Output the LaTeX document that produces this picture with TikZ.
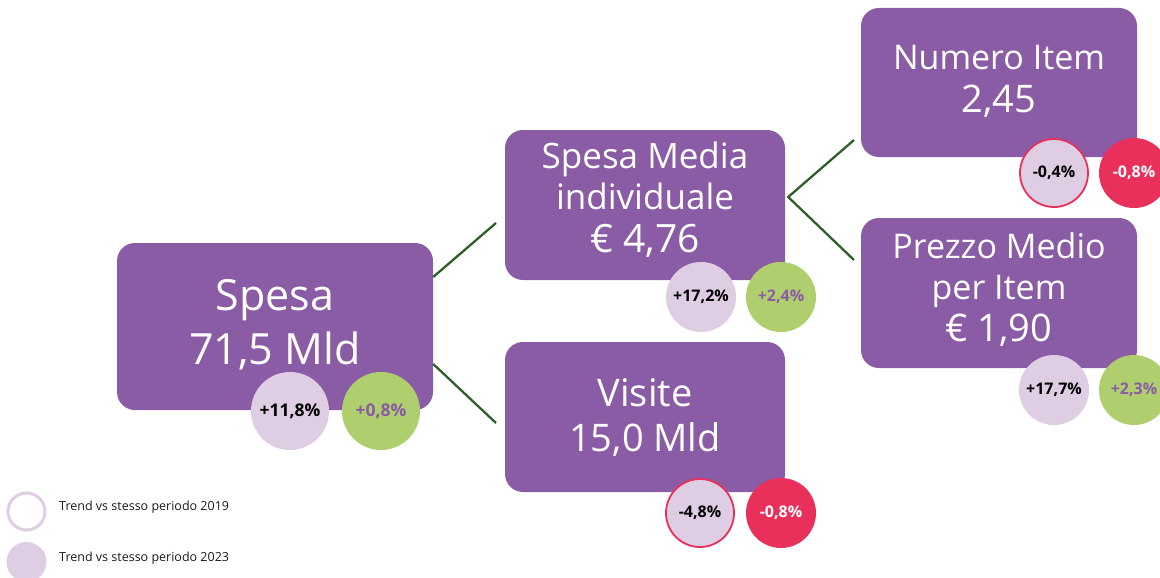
\documentclass[tikz,border=0pt]{standalone}
\usepackage{fontspec}
\setmainfont{Open Sans}
\usetikzlibrary{calc}
\definecolor{boxpurple}{HTML}{8A5CA5}
\definecolor{lightlilac}{HTML}{DFCDE4}
\definecolor{leafgreen}{HTML}{AFCF6F}
\definecolor{alertred}{HTML}{E8305A}
\definecolor{linegreen}{HTML}{2F5E2B}
\definecolor{legendtext}{HTML}{1A1A1A}
\tikzset{
  kpibox/.style={draw=none, fill=boxpurple, rounded corners=18pt, inner sep=0pt},
  boxtext/.style={text=white, align=center, inner sep=0pt},
  pct/.style={circle, inner sep=0pt, minimum size=#1, font=\bfseries\fontsize{16}{16}\selectfont},
  vs19/.style={pct=#1, fill=lightlilac, text=black},
  vs19neg/.style={pct=#1, fill=lightlilac, draw=alertred, line width=1.8pt, text=black},
  vs23pos/.style={pct=#1, fill=leafgreen, text=boxpurple},
  vs23neg/.style={pct=#1, fill=alertred, text=white},
  conn/.style={draw=linegreen, line width=2.3pt},
  legendtxt/.style={anchor=west, inner sep=0pt, text=legendtext, font=\fontsize{12.5}{14}\selectfont}
}
\begin{document}
\begin{tikzpicture}[x=1pt,y=-1pt]
\useasboundingbox (0,0) rectangle (1160,578);

% boxes
\node[kpibox, minimum width=316pt, minimum height=167pt,
  label={[boxtext, yshift=2pt, font=\fontsize{43}{54}\selectfont]center:{Spesa\\71,5 Mld}}] (spesa) at (275,326.5) {};
\node[kpibox, minimum width=280pt, minimum height=150pt,
  label={[boxtext, yshift=5pt, font=\fontsize{35}{41}\selectfont]center:{Spesa Media\\individuale\\[2pt]\fontsize{39}{41}\selectfont € 4,76}}] (media) at (645,205) {};
\node[kpibox, minimum width=280pt, minimum height=150pt,
  label={[boxtext, yshift=-1pt, font=\fontsize{38}{45}\selectfont]center:{Visite\\15,0 Mld}}] (visite) at (645,417) {};
\node[kpibox, minimum width=276pt, minimum height=149pt,
  label={[boxtext, yshift=1pt, font=\fontsize{34}{43}\selectfont]center:{Numero Item\\\fontsize{38}{43}\selectfont 2,45}}] (numero) at (999,82.5) {};
\node[kpibox, minimum width=276pt, minimum height=150pt,
  label={[boxtext, yshift=3pt, font=\fontsize{34}{41}\selectfont]center:{Prezzo Medio\\per Item\\[1pt]\fontsize{38}{41}\selectfont € 1,90}}] (prezzo) at (999,293) {};

% connectors
\coordinate (mediaIn) at (496,223);
\coordinate (visiteIn) at (496,423);
\coordinate (numeroIn) at (854,140);
\coordinate (prezzoIn) at (854,260);
\coordinate (mediaOut) at ($(media.east)+(3,-8)$);
\draw[conn] ($(spesa.east)+(0,-49.5)$) -- (mediaIn);
\draw[conn] ($(spesa.east)+(0,37.5)$) -- (visiteIn);
\draw[conn, line join=miter] (numeroIn) -- (mediaOut) -- (prezzoIn);

% trend circles
\node[vs19=78pt, font=\bfseries\fontsize{17.5}{18}\selectfont] (spesaA) at (290,411) {+11,8\%};
\node[vs23pos=78pt, font=\bfseries\fontsize{17.5}{18}\selectfont] (spesaB) at (381,411) {+0,8\%};
\node[vs19=70pt] (mediaA) at (701,297) {+17,2\%};
\node[vs23pos=70pt] (mediaB) at (781,297) {+2,4\%};
\node[vs19neg=68pt] (visiteA) at (700,513) {-4,8\%};
\node[vs23neg=70pt] (visiteB) at (781,513) {-0,8\%};
\node[vs19neg=68pt] (numeroA) at (1054,173) {-0,4\%};
\node[vs23neg=70pt] (numeroB) at (1134,173) {-0,8\%};
\node[vs19=70pt] (prezzoA) at (1054,390) {+17,7\%};
\node[vs23pos=70pt] (prezzoB) at (1134,390) {+2,3\%};

% legend
\node[circle, draw=lightlilac, line width=3pt, fill=white, minimum size=37pt, inner sep=0pt] (leg19) at (26.5,511.5) {};
\node[circle, fill=lightlilac, minimum size=40pt, inner sep=0pt] (leg23) at (26.5,562) {};
\node[legendtxt] (leg19t) at (59,507) {Trend vs stesso periodo 2019};
\node[legendtxt] (leg23t) at (59,558) {Trend vs stesso periodo 2023};
\end{tikzpicture}
\end{document}
